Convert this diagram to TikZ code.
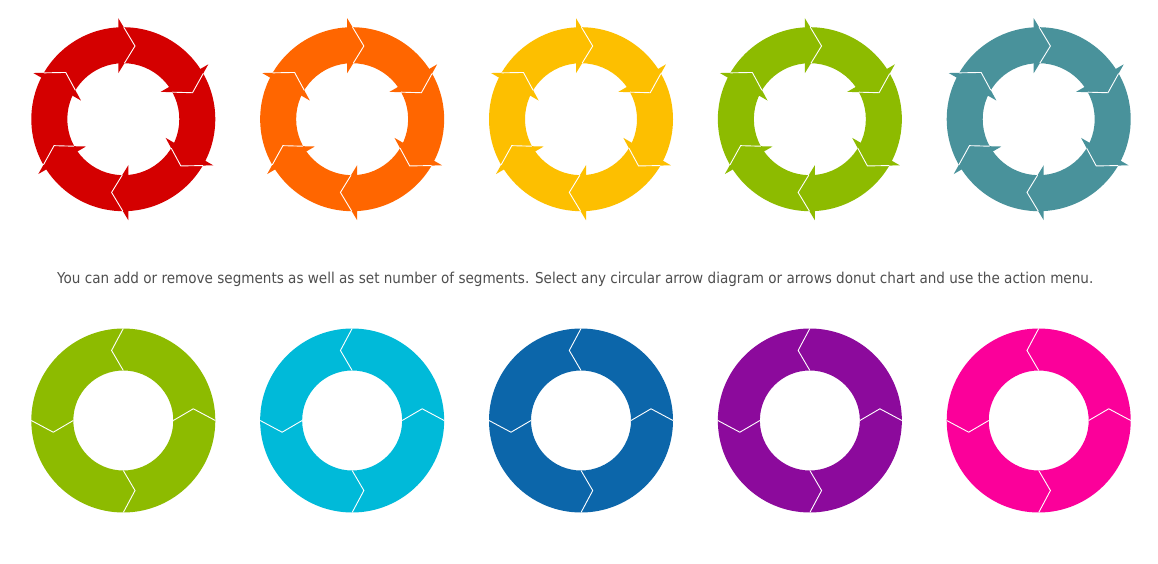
\documentclass[tikz,border=0pt]{standalone}
\usepackage{graphicx}
\usepackage{fontspec}
\setmainfont{DejaVu Sans}
\definecolor{cred}{HTML}{D40000}
\definecolor{corange}{HTML}{FF6600}
\definecolor{cyellow}{HTML}{FDBF00}
\definecolor{cgreen}{HTML}{8DBB00}
\definecolor{cteal}{HTML}{49929B}
\definecolor{ccyan}{HTML}{00BAD9}
\definecolor{cblue}{HTML}{0C66AA}
\definecolor{cpurple}{HTML}{8C0A9C}
\definecolor{cmagenta}{HTML}{FB009A}
\definecolor{textgray}{HTML}{4F4F4F}
\tikzset{
  joint/.style={draw=white, line width=0.9pt, line join=miter},
  caption/.style={text=textgray, inner sep=0pt, anchor=base}
}
% ring of six arrows, centre x = #1, colour #2
\newcommand\arrowring[2]{%
  \begin{scope}[shift={(#1,443.8)}]
    \fill[#2, even odd rule] (0,0) circle[radius=92] (0,0) circle[radius=56];
    \foreach \k in {0,...,5}{
      \begin{scope}[rotate=-60*\k]
        \fill[#2] (-5,101) -- (11.7,73.2) -- (-5,46) -- cycle;
        \draw[joint] (0.41,92) -- (11.7,73.2) -- (1.13,56);
      \end{scope}}
  \end{scope}}
% donut of four segments, centre x = #1, colour #2
\newcommand\donutring[2]{%
  \begin{scope}[shift={(#1,142.5)}]
    \fill[#2, even odd rule] (0,0) circle[radius=92] (0,0) circle[radius=50];
    \foreach \a in {0,90,180,270}
      \draw[joint] (\a:92) -- (\a+9.5:71) -- (\a:50);
  \end{scope}}
\begin{document}
\begin{tikzpicture}[x=1pt,y=1pt]
\useasboundingbox (0,0) rectangle (1158,563);
\fill[white] (0,0) rectangle (1158,563);

\arrowring{123.3}{cred}
\arrowring{352.15}{corange}
\arrowring{581.0}{cyellow}
\arrowring{809.85}{cgreen}
\arrowring{1038.7}{cteal}

\node[caption] (caption) at (575.2,279.7) {\resizebox{1036pt}{\height}{\fontsize{15}{18}\selectfont You can add or remove segments as well as set number of segments. Select any circular arrow diagram or arrows donut chart and use the action menu.}};

\donutring{123.3}{cgreen}
\donutring{352.15}{ccyan}
\donutring{581.0}{cblue}
\donutring{809.85}{cpurple}
\donutring{1038.7}{cmagenta}
\end{tikzpicture}
\end{document}
